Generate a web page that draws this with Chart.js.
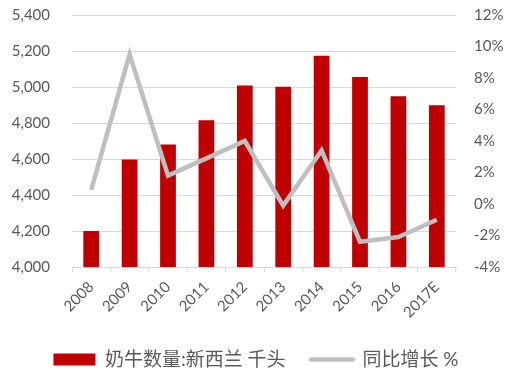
<!DOCTYPE html>
<html>
<head>
<meta charset="utf-8">
<script src="https://cdn.jsdelivr.net/npm/chart.js@4"></script>
<style>
  html, body { margin: 0; padding: 0; background: #fff; }
  #wrap { width: 512px; height: 379px; }
</style>
</head>
<body>
<div id="wrap"><canvas id="c" width="512" height="379"></canvas></div>
<script>
const years = ['2008', '2009', '2010', '2011', '2012', '2013', '2014', '2015', '2016', '2017E'];
const cows = [4200, 4597, 4680, 4815, 5008, 5002, 5173, 5055, 4948, 4898];
const yoy = [0.9, 9.5, 1.8, 2.9, 4.0, -0.1, 3.4, -2.4, -2.1, -1.0];
const leftTicks = { min: 4000, max: 5400, step: 200 };
const rightTicks = { min: -4, max: 12, step: 2 };
const barLabel = '奶牛数量:新西兰 千头';
const lineLabel = '同比增长 %';

const textColor = '#595959';
const gridColor = '#D9D9D9';
const fontFamily = "Lato, 'Noto Sans CJK SC', sans-serif";

new Chart(document.getElementById('c'), {
    type: 'bar',
    data: {
        labels: years,
        datasets: [
            {
                label: barLabel,
                data: cows,
                backgroundColor: '#C00000',
                borderWidth: 0,
                yAxisID: 'y',
                order: 2,
                pointStyle: 'rect',
                categoryPercentage: 1,
                barPercentage: 0.41
            },
            {
                type: 'line',
                label: lineLabel,
                data: yoy,
                borderColor: '#BFBFBF',
                backgroundColor: '#BFBFBF',
                borderWidth: 4.5,
                pointRadius: 0,
                tension: 0,
                yAxisID: 'y1',
                order: 1,
                pointStyle: 'line'
            }
        ]
    },
    options: {
        responsive: false,
        animation: false,
        layout: { padding: { top: 15, left: 0, right: 0, bottom: 0 } },
        plugins: {
            tooltip: { enabled: false },
            legend: {
                position: 'bottom',
                labels: {
                    usePointStyle: true,
                    pointStyleWidth: 42,
                    boxWidth: 42,
                    boxHeight: 12,
                    padding: 6,
                    color: textColor,
                    font: { family: fontFamily, size: 19 },
                    sort: (a, b) => a.datasetIndex - b.datasetIndex,
                    generateLabels: (chart) => {
                        const items = Chart.defaults.plugins.legend.labels.generateLabels(chart);
                        items.forEach(it => {
                            it.lineCap = 'round';
                            // widen the gap between the two legend entries
                            if (it.datasetIndex === 0) it.text += '    ';
                        });
                        return items;
                    }
                }
            }
        },
        scales: {
            x: {
                offset: true,
                grid: {
                    display: true,
                    drawOnChartArea: false,
                    drawTicks: true,
                    tickLength: 5,
                    color: gridColor,
                    offset: true
                },
                border: { display: true, color: gridColor, width: 1 },
                ticks: {
                    color: textColor,
                    font: { family: fontFamily, size: 15 },
                    minRotation: 45,
                    maxRotation: 45,
                    padding: 6,
                    autoSkip: false
                },
                afterFit: (scale) => { scale.height = 77; }
            },
            y: {
                position: 'left',
                min: leftTicks.min,
                max: leftTicks.max,
                // invisible tick marks push the labels away from the plot
                grid: { color: gridColor, drawTicks: true, tickLength: 19, tickColor: 'rgba(0,0,0,0)' },
                border: { display: false },
                ticks: {
                    stepSize: leftTicks.step,
                    color: textColor,
                    padding: 3,
                    font: { family: fontFamily, size: 15 },
                    callback: (v) => v.toLocaleString('en-US')
                },
                afterFit: (scale) => { scale.width = 72; }
            },
            y1: {
                position: 'right',
                min: rightTicks.min,
                max: rightTicks.max,
                grid: { drawOnChartArea: false, drawTicks: true, tickLength: 15, tickColor: 'rgba(0,0,0,0)' },
                border: { display: false },
                ticks: {
                    stepSize: rightTicks.step,
                    color: textColor,
                    padding: 3,
                    font: { family: fontFamily, size: 15 },
                    callback: (v) => v + '%'
                },
                afterFit: (scale) => { scale.width = 56; }
            }
        }
    }
});
</script>
</body>
</html>
